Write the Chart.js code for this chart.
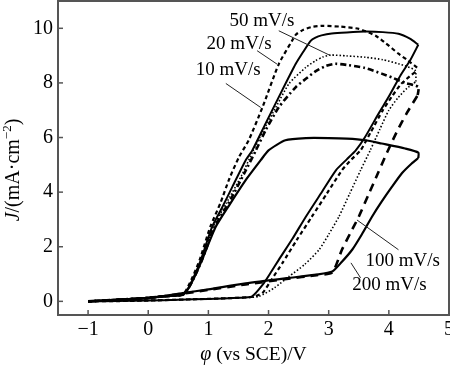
<!DOCTYPE html>
<html><head><meta charset="utf-8">
<script src="https://cdn.jsdelivr.net/npm/chart.js@4/dist/chart.umd.min.js"></script>
<style>html,body{margin:0;padding:0;background:#fff}canvas{display:block}</style>
</head><body>
<canvas id="c" width="450" height="367"></canvas>
<script>
// ---- tick labels ----
const xTicks = [-1, 0, 1, 2, 3, 4, 5];
const yTicks = [0, 2, 4, 6, 8, 10];

// ---- series labels ----
const seriesLabels = ['10 mV/s', '20 mV/s', '50 mV/s', '100 mV/s', '200 mV/s'];

// ---- 10 mV/s ----
const a10FwdX = [-1, -0.5, 0, 0.5, 1.0, 1.5, 1.72, 1.9, 2.05, 2.17, 2.4, 2.62, 2.87, 3.12, 3.3, 3.45, 3.6, 3.83, 4.0, 4.2, 4.36, 4.49];
const a10FwdY = [0, 0.01, 0.03, 0.06, 0.09, 0.13, 0.17, 0.6, 1.1, 1.52, 2.3, 3.1, 3.95, 4.8, 5.2, 5.53, 6.0, 6.88, 7.5, 8.3, 8.85, 9.4];
const a10RevX = [4.49, 4.35, 4.16, 3.9, 3.61, 3.3, 3.05, 2.88, 2.78, 2.7, 2.58, 2.45, 2.17, 1.95, 1.73, 1.62, 1.4, 1.22, 1.06, 0.88, 0.76, 0.66, 0.57, 0.3, 0, -0.5, -1];
const a10RevY = [9.4, 9.62, 9.8, 9.86, 9.88, 9.85, 9.81, 9.74, 9.66, 9.54, 9.15, 8.69, 7.48, 6.51, 5.53, 5.17, 4.2, 3.4, 2.72, 1.55, 0.9, 0.45, 0.24, 0.19, 0.13, 0.06, 0];

// ---- 20 mV/s ----
const b20FwdX = [-1, -0.5, 0, 0.5, 1.0, 1.5, 1.75, 1.9, 2.05, 2.23, 2.47, 2.72, 2.97, 3.22, 3.38, 3.53, 3.7, 3.9, 4.05, 4.2, 4.35, 4.47];
const b20FwdY = [0, 0.01, 0.03, 0.06, 0.09, 0.13, 0.17, 0.31, 0.8, 1.4, 2.25, 3.1, 3.95, 4.8, 5.2, 5.53, 6.2, 7.0, 7.5, 7.95, 8.25, 8.45];
const b20RevX = [4.47, 4.3, 4.16, 3.95, 3.78, 3.5, 3.2, 2.9, 2.72, 2.58, 2.46, 2.39, 2.17, 1.9, 1.67, 1.51, 1.35, 1.2, 1.03, 0.86, 0.74, 0.64, 0.57, 0.3, 0, -0.5, -1];
const b20RevY = [8.56, 8.85, 9.07, 9.45, 9.73, 9.98, 10.06, 10.09, 10.05, 9.95, 9.78, 9.54, 8.69, 7.11, 5.9, 5.29, 4.5, 3.6, 2.72, 1.55, 0.9, 0.45, 0.24, 0.19, 0.13, 0.06, 0];

// ---- 50 mV/s ----
const c50FwdX = [-1, 0, 0.5, 1.0, 1.5, 1.84, 2.1, 2.34, 2.6, 2.84, 3.0, 3.17, 3.35, 3.53, 3.69, 3.85, 4.0, 4.15, 4.3, 4.45];
const c50FwdY = [0, 0.03, 0.06, 0.09, 0.13, 0.18, 0.5, 0.91, 1.35, 1.89, 2.45, 3.1, 3.95, 4.8, 5.53, 6.3, 7.0, 7.45, 7.8, 8.05];
const c50RevX = [4.45, 4.44, 4.3, 4.16, 3.9, 3.61, 3.3, 3.03, 2.9, 2.78, 2.62, 2.34, 2.12, 1.9, 1.74, 1.55, 1.3, 1.08, 0.89, 0.76, 0.65, 0.57, 0.3, 0, -0.5, -1];
const c50RevY = [8.05, 8.45, 8.6, 8.7, 8.85, 8.94, 8.99, 9.02, 8.95, 8.81, 8.57, 7.97, 7.1, 6.2, 5.5, 4.6, 3.6, 2.72, 1.55, 0.9, 0.45, 0.24, 0.19, 0.13, 0.06, 0];

// ---- 100 mV/s ----
const d100FwdX = [-1, -0.5, 0, 0.57, 1.0, 1.62, 2.3, 2.8, 3.06, 3.22, 3.36, 3.5, 3.66, 3.82, 3.97, 4.13, 4.3, 4.48];
const d100FwdY = [0, 0.06, 0.12, 0.28, 0.42, 0.62, 0.82, 0.96, 1.06, 1.89, 2.5, 3.1, 3.9, 4.7, 5.45, 6.2, 6.9, 7.55];
const d100RevX = [4.48, 4.49, 4.27, 4.05, 3.88, 3.6, 3.33, 3.11, 2.95, 2.78, 2.62, 2.45, 2.17, 1.95, 1.79, 1.6, 1.35, 1.1, 0.9, 0.77, 0.66, 0.57, 0.3, 0, -0.5, -1];
const d100RevY = [7.55, 7.85, 8.0, 8.2, 8.34, 8.55, 8.65, 8.7, 8.62, 8.42, 8.15, 7.84, 7.11, 6.26, 5.53, 4.7, 3.65, 2.72, 1.55, 0.9, 0.45, 0.24, 0.19, 0.13, 0.06, 0];

// ---- 200 mV/s ----
const e200FwdX = [-1, -0.5, 0, 0.57, 1.0, 1.62, 2.3, 2.8, 3.06, 3.22, 3.39, 3.55, 3.72, 3.88, 4.05, 4.22, 4.38, 4.49];
const e200FwdY = [0, 0.06, 0.12, 0.3, 0.44, 0.66, 0.85, 0.98, 1.09, 1.45, 1.89, 2.45, 3.1, 3.65, 4.19, 4.7, 5.05, 5.25];
const e200RevX = [4.49, 4.49, 4.27, 3.88, 3.61, 3.3, 3.0, 2.62, 2.28, 2.0, 1.87, 1.62, 1.34, 1.12, 0.9, 0.77, 0.66, 0.57, 0.3, 0, -0.5, -1];
const e200RevY = [5.25, 5.45, 5.6, 5.78, 5.9, 5.96, 5.98, 5.98, 5.9, 5.53, 5.17, 4.44, 3.5, 2.72, 1.55, 0.9, 0.45, 0.24, 0.19, 0.13, 0.06, 0];

// ---- helpers ----
const pts = (xs, ys) => xs.map((x, i) => ({x: x, y: ys[i]}));
const SERIF = '"Liberation Serif", "DejaVu Serif", serif';

function ds(label, xs, ys, width, dash) {
  return {label: label, data: pts(xs, ys), showLine: true, pointRadius: 0,
    borderColor: '#000', backgroundColor: '#000', borderWidth: width,
    borderDash: dash, tension: 0.2, fill: false};
}

const datasets = [
  ds(seriesLabels[4], e200FwdX, e200FwdY, 2.2, []),
  ds(seriesLabels[4], e200RevX, e200RevY, 2.2, []),
  ds(seriesLabels[3], d100FwdX, d100FwdY, 2.6, [8, 6]),
  ds(seriesLabels[3], d100RevX, d100RevY, 2.6, [6, 3, 2, 3]),
  ds(seriesLabels[2], c50FwdX, c50FwdY, 1.6, [1.5, 2]),
  ds(seriesLabels[2], c50RevX, c50RevY, 1.6, [1.5, 2]),
  ds(seriesLabels[1], b20FwdX, b20FwdY, 2.2, [4, 3]),
  ds(seriesLabels[1], b20RevX, b20RevY, 2.2, [4, 3]),
  ds(seriesLabels[0], a10FwdX, a10FwdY, 2.0, []),
  ds(seriesLabels[0], a10RevX, a10RevY, 2.0, [])
];

// annotation placement (data units): text centre, leader start, leader end
const notes = [
  {text: seriesLabels[2], tx: 1.89, ty: 10.26, x1: 2.17, y1: 9.91, x2: 3.03, y2: 9.0},
  {text: seriesLabels[1], tx: 1.51, ty: 9.42, x1: 1.81, y1: 9.18, x2: 2.14, y2: 8.69},
  {text: seriesLabels[0], tx: 1.33, ty: 8.47, x1: 1.29, y1: 7.98, x2: 1.87, y2: 7.1},
  {text: seriesLabels[3], tx: 4.23, ty: 1.48, x1: 4.16, y1: 1.89, x2: 3.47, y2: 2.98},
  {text: seriesLabels[4], tx: 4.01, ty: 0.61, x1: 3.53, y1: 0.86, x2: 3.37, y2: 1.41}
];

const decor = {
  id: 'decor',
  afterDatasetsDraw(chart) {
    const {ctx, chartArea: a, scales: {x, y}} = chart;
    ctx.save();
    // leader lines + labels
    ctx.strokeStyle = '#222';
    ctx.lineWidth = 1;
    ctx.setLineDash([]);
    notes.forEach(n => {
      ctx.beginPath();
      ctx.moveTo(x.getPixelForValue(n.x1), y.getPixelForValue(n.y1));
      ctx.lineTo(x.getPixelForValue(n.x2), y.getPixelForValue(n.y2));
      ctx.stroke();
      ctx.fillStyle = '#000';
      ctx.font = '19px ' + SERIF;
      ctx.textAlign = 'center';
      ctx.textBaseline = 'middle';
      ctx.fillText(n.text, x.getPixelForValue(n.tx), y.getPixelForValue(n.ty));
    });
    // frame
    ctx.strokeStyle = '#555';
    ctx.lineWidth = 2;
    ctx.strokeRect(a.left, a.top, a.right - a.left, a.bottom - a.top);
    // inward tick marks
    ctx.lineWidth = 1.5;
    xTicks.forEach(v => {
      const px = x.getPixelForValue(v);
      if (px > a.right - 1) return;
      ctx.beginPath(); ctx.moveTo(px, a.bottom); ctx.lineTo(px, a.bottom - 5); ctx.stroke();
    });
    yTicks.forEach(v => {
      const py = y.getPixelForValue(v);
      ctx.beginPath(); ctx.moveTo(a.left, py); ctx.lineTo(a.left + 5, py); ctx.stroke();
    });
    // x axis title: φ (vs SCE)/V
    ctx.fillStyle = '#000';
    ctx.textBaseline = 'alphabetic';
    ctx.textAlign = 'left';
    const it = 'italic 20px ' + SERIF, rg = '19.5px ' + SERIF;
    ctx.font = it; const w1 = ctx.measureText('φ').width;
    ctx.font = rg; const w2 = ctx.measureText(' (vs SCE)/V').width;
    let sx = (a.left + a.right) / 2 - (w1 + w2) / 2;
    ctx.font = it; ctx.fillText('φ', sx, 360);
    ctx.font = rg; ctx.fillText(' (vs SCE)/V', sx + w1, 360);
    // y axis title: J/(mA·cm⁻²)
    ctx.save();
    ctx.translate(19, 170);
    ctx.rotate(-Math.PI / 2);
    const parts = [
      {t: 'J', f: 'italic 20px ' + SERIF, dy: 0},
      {t: '/(mA·cm', f: '20px ' + SERIF, dy: 0},
      {t: '−2', f: '13px ' + SERIF, dy: -8},
      {t: ')', f: '20px ' + SERIF, dy: 0}
    ];
    let tw = 0;
    parts.forEach(p => { ctx.font = p.f; p.w = ctx.measureText(p.t).width; tw += p.w; });
    let cx = -tw / 2;
    parts.forEach(p => { ctx.font = p.f; ctx.fillText(p.t, cx, p.dy); cx += p.w; });
    ctx.restore();
    ctx.restore();
  }
};

const fmt = v => (v < 0 ? '−' + Math.abs(v) : String(v));

new Chart(document.getElementById('c'), {
  type: 'scatter',
  data: {datasets: datasets},
  options: {
    responsive: false,
    animation: false,
    devicePixelRatio: 1,
    layout: {padding: {left: 0, right: 1, top: 1, bottom: 0}},
    plugins: {legend: {display: false}, tooltip: {enabled: false}},
    scales: {
      x: {
        type: 'linear', min: -1.5, max: 5,
        afterBuildTicks: s => { s.ticks = xTicks.map(v => ({value: v})); },
        afterFit: s => { s.height = 52; s.paddingLeft = 0; s.paddingRight = 0; },
        grid: {display: false, drawTicks: false},
        border: {display: false},
        ticks: {padding: 3, color: '#000', font: {family: SERIF, size: 20}, maxRotation: 0, autoSkip: false, callback: fmt}
      },
      y: {
        type: 'linear', min: -0.5, max: 11,
        afterBuildTicks: s => { s.ticks = yTicks.map(v => ({value: v})); },
        afterFit: s => { s.width = 58; s.paddingTop = 0; s.paddingBottom = 0; },
        grid: {display: false, drawTicks: false},
        border: {display: false},
        ticks: {padding: 5, color: '#000', font: {family: SERIF, size: 20}, autoSkip: false, callback: fmt}
      }
    }
  },
  plugins: [decor]
});
</script>
</body></html>
